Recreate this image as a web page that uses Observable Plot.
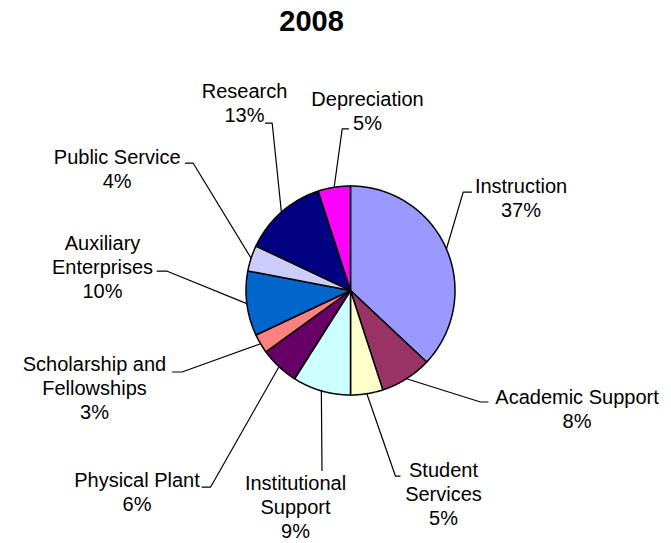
<!DOCTYPE html>
<html><head><meta charset="utf-8">
<script src="https://cdn.jsdelivr.net/npm/d3@7"></script>
<script src="https://cdn.jsdelivr.net/npm/@observablehq/plot@0.6"></script>
<style>body{margin:0;background:#fff}</style>
</head><body><div id="chart"></div><script>
// ---- data ----
const title = "2008";
const categories = ["Instruction","Academic Support","Student Services","Institutional Support","Physical Plant","Scholarship and Fellowships","Auxiliary Enterprises","Public Service","Research","Depreciation"];
const labelLines = [["Instruction"],["Academic Support"],["Student","Services"],["Institutional","Support"],["Physical Plant"],["Scholarship and","Fellowships"],["Auxiliary","Enterprises"],["Public Service"],["Research"],["Depreciation"]];
const percents = [37, 8, 5, 9, 6, 3, 10, 4, 13, 5];
const colors = ["#9999FF","#993366","#FFFFCC","#CCFFFF","#660066","#FF8080","#0066CC","#CCCCFF","#000080","#FF00FF"];

// ---- layout ----
const W = 671, H = 543, CX = 350, CY = 290, R = 104.5, FS = 20, LH = 24;
const FONT = "'Liberation Sans', Arial, Helvetica, sans-serif";
// label text anchor (center x, first baseline y), leader elbow and stub end
const labelLayout = [
  {tx:520.5, ty:192,   ex:462.7, ey:191.7, sx:471},
  {tx:576.5, ty:403.3, ex:480,   ey:401.5, sx:487.5},
  {tx:443,   ty:476.5, ex:395,   ey:475.7, sx:399.5},
  {tx:295,   ty:489,   ex:321.5, ey:470,   sx:321.5},
  {tx:136.5, ty:486.7, ex:210,   ey:486.7, sx:201.7},
  {tx:94,    ty:370.7, ex:181.5, ey:371.5, sx:172},
  {tx:102,   ty:249,   ex:166.7, ey:270.7, sx:156.7},
  {tx:116.7, ty:163,   ex:192.7, ey:162.7, sx:185},
  {tx:244,   ty:97.7,  ex:271.7, ey:122.7, sx:265},
  {tx:367,   ty:105.3, ex:341.7, ey:128.3, sx:348}
];

const total = d3.sum(percents);
let cum = 0;
const slices = percents.map((p, i) => {
  const a0 = cum / total * 2 * Math.PI; cum += p;
  const a1 = cum / total * 2 * Math.PI;
  return {i, a0, a1, mid: (a0 + a1) / 2};
});
const pt = (a, r) => [CX + r * Math.sin(a), CY - r * Math.cos(a)];

const sliceMarks = slices.map(s => {
  const n = Math.max(2, Math.ceil((s.a1 - s.a0) / (Math.PI / 360)));
  const pts = [[CX, CY]];
  for (let k = 0; k <= n; k++) pts.push(pt(s.a0 + (s.a1 - s.a0) * k / n, R));
  pts.push([CX, CY]);
  return Plot.line(pts, {x: d => d[0], y: d => d[1], fill: colors[s.i], stroke: "black", strokeWidth: 1.5, curve: "linear"});
});

const leaders = slices.flatMap(s => {
  const L = labelLayout[s.i];
  const [x0, y0] = pt(s.mid, R);
  return [{k: s.i, x: x0, y: y0}, {k: s.i, x: L.ex, y: L.ey}, {k: s.i, x: L.sx, y: L.ey}];
});

const labels = slices.map(s => {
  const lines = [...labelLines[s.i], percents[s.i] + "%"];
  const L = labelLayout[s.i];
  return {x: L.tx, y: L.ty + LH * (lines.length - 1), text: lines.join("\n")};
});

const chart = Plot.plot({
  width: W, height: H,
  marginTop: 0, marginRight: 0, marginBottom: 0, marginLeft: 0,
  x: {domain: [0, W], range: [0, W], axis: null},
  y: {domain: [0, H], range: [0, H], axis: null},
  style: {fontFamily: FONT, background: "white", color: "black"},
  marks: [
    ...sliceMarks,
    Plot.line(leaders, {x: "x", y: "y", z: "k", stroke: "black", strokeWidth: 1.2, curve: "linear"}),
    Plot.text(labels, {x: "x", y: "y", text: "text", textAnchor: "middle", lineAnchor: "bottom", lineHeight: LH / FS, fontSize: FS, fontFamily: FONT, fill: "black"}),
    Plot.text([title], {frameAnchor: "top", dx: -24.5, dy: 10, lineAnchor: "top", fontSize: 29, fontWeight: "bold", fontFamily: FONT, fill: "black"})
  ]
});
document.getElementById("chart").appendChild(chart);
</script></body></html>
